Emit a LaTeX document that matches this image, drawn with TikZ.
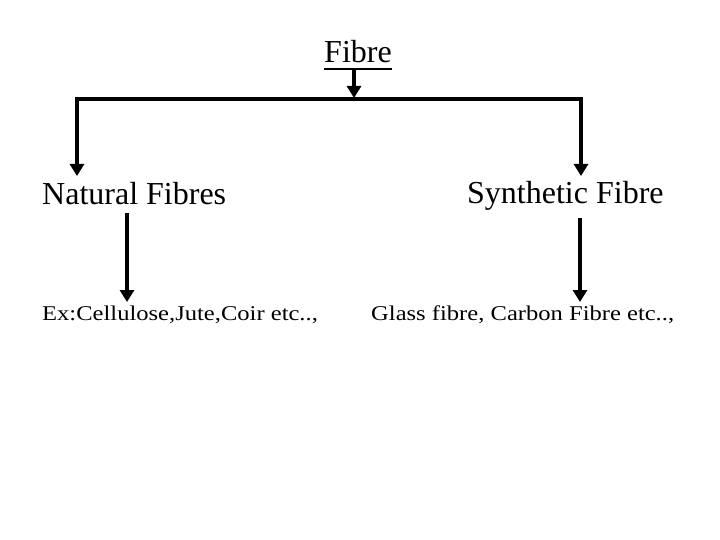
\documentclass[tikz,border=0pt]{standalone}
\usepackage{fontspec}
\setmainfont{Liberation Serif}
\newfontfamily\widefont[FakeStretch=1.17]{Liberation Serif}
\usetikzlibrary{arrows.meta, positioning}
\tikzset{
  title/.style={
    inner sep=0pt,
    anchor=base,
    font=\fontsize{32}{38}\selectfont
  },
  kind/.style={
    inner sep=0pt,
    anchor=base west,
    font=\fontsize{32}{38}\selectfont
  },
  example/.style={
    inner sep=0pt,
    anchor=base west,
    font=\widefont\fontsize{21}{25}\selectfont
  },
  bar/.style={
    line width=4pt,
    line cap=rect
  },
  down/.style={
    line width=4pt,
    -{Triangle[width=14pt,length=12pt]}
  }
}

\begin{document}
\begin{tikzpicture}[x=1pt, y=1pt]
      \useasboundingbox (0,0) rectangle (720,-540);

      % Top
      \node[title] (fibre) at (358,-63) {Fibre};
      \coordinate (uline) at ([yshift=-6pt]fibre.base);
      \draw[line width=1.6pt] ([yshift=-6pt]fibre.base west) -- ([yshift=-6pt]fibre.base east);
      \coordinate (split) at (354,-98);
      \coordinate (lhook) at (77,-99);
      \coordinate (rhook) at (581,-99);
      \draw[down] (uline -| split) -- (split);
      \draw[bar] (lhook) -- (rhook);

      % Kinds
      \node[kind] (natural) at (42,-205) {Natural Fibres};
      \node[kind] (synth) at (467,-204) {Synthetic Fibre};
      \coordinate (ltip) at (77,-176);
      \coordinate (rtip) at (581,-176);
      \draw[down] (lhook) -- (ltip);
      \draw[down] (rhook) -- (rtip);

      % Examples
      \node[example] (exnat) at (42,-320) {Ex:Cellulose,Jute,Coir etc..,};
      \node[example] (exsyn) at (371,-320) {Glass fibre, Carbon Fibre etc..,};
      \coordinate (ltop) at (127,-213);
      \coordinate (rtop) at (580,-218);
      \draw[down] (ltop) -- (ltop |- 0,-302);
      \draw[down] (rtop) -- (rtop |- 0,-302);
\end{tikzpicture}
\end{document}
